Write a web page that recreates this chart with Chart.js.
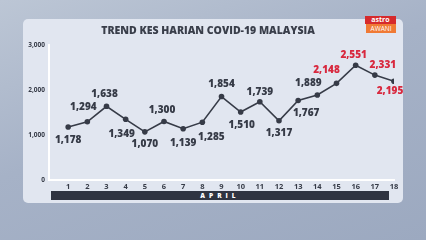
<!DOCTYPE html>
<html><head><meta charset="utf-8">
<script src="https://cdn.jsdelivr.net/npm/chart.js@4.4.1/dist/chart.umd.min.js"></script>
<style>
html,body{margin:0;padding:0;width:426px;height:240px;overflow:hidden;}
body{position:relative;background:linear-gradient(160deg,#bcc6d5 0%,#a6b2c7 45%,#9ca9c0 100%);font-family:"Open Sans",sans-serif;}
#card{position:absolute;left:23px;top:19px;width:380px;height:184px;border-radius:5px;background:#e1e6f0;}
#bar{position:absolute;left:51px;top:191px;width:338px;height:9px;background:#2f3441;color:#fff;font:800 6.5px "Open Sans",sans-serif;letter-spacing:4px;text-align:center;line-height:9px;}
#logo{position:absolute;left:365px;top:16px;width:31px;}
#logo .a{background:#d62a2c;color:#fff;font:700 7px "Open Sans",sans-serif;text-align:center;height:8px;line-height:8px;}
#logo .b{background:#f07a35;color:#fff;font:400 6.5px "Open Sans",sans-serif;text-align:center;height:9px;line-height:9px;margin-left:1px;}
canvas{position:absolute;left:0;top:0;}
</style></head>
<body>
<div id="card"></div>
<div id="bar">APRIL</div>
<div id="logo"><div class="a">astro</div><div class="b">AWANI</div></div>
<canvas id="c" width="426" height="240"></canvas>
<script>
const days = [1,2,3,4,5,6,7,8,9,10,11,12,13,14,15,16,17,18];
const cases = [1178,1294,1638,1349,1070,1300,1139,1285,1854,1510,1739,1317,1767,1889,2148,2551,2331,2195];
const yTicks = [0,1000,2000,3000];
const title = 'TREND KES HARIAN COVID-19 MALAYSIA';
const highlightFromDay = 15;
// label offsets (style, relative to each point)
const labelOffsets = [[0,13],[-4,-15],[-2,-12],[-4,15],[0,12],[-2,-11],[0,14],[9,15],[0,-12],[1,13],[0,-10],[0,12],[8,13],[-9,-12],[-10,-13],[-2,-10],[8,-10],[-4,10]];

const fmt = v => v.toLocaleString('en-US');
const dark = '#363b47', red = '#d8283e';

const labelPlugin = {
  id: 'pointLabels',
  afterDatasetsDraw(chart) {
    const ctx = chart.ctx;
    const meta = chart.getDatasetMeta(0);
    ctx.save();
    ctx.font = '800 10px "Open Sans", sans-serif';
    ctx.textAlign = 'center';
    ctx.textBaseline = 'middle';
    meta.data.forEach((pt, i) => {
      const o = labelOffsets[i];
      ctx.fillStyle = days[i] >= highlightFromDay ? red : dark;
      ctx.fillText(fmt(cases[i]), pt.x + o[0], pt.y + o[1]);
    });
    ctx.restore();
  }
};

new Chart(document.getElementById('c'), {
  type: 'line',
  data: {
    datasets: [{
      data: days.map((d, i) => ({x: d, y: cases[i]})),
      borderColor: '#363b47',
      borderWidth: 1.6,
      pointRadius: 2.8,
      pointBackgroundColor: '#363b47',
      pointBorderWidth: 0,
      tension: 0
    }]
  },
  options: {
    responsive: false,
    animation: false,
    layout: {padding: {left: 22, right: 32, top: 0, bottom: 0}},
    plugins: {
      legend: {display: false},
      tooltip: {enabled: false},
      title: {
        display: true, text: title, color: '#393e4a',
        font: {family: '"Open Sans", sans-serif', size: 10.5, weight: '800', lineHeight: 1.2},
        padding: {top: 25, bottom: 7.4}
      }
    },
    scales: {
      x: {
        type: 'linear', min: 0, max: 18,
        afterFit: s => { s.height = 60; },
        grid: {display: true, drawOnChartArea: false, drawTicks: false},
        border: {display: true, color: '#ffffff', width: 2},
        ticks: {
          stepSize: 1, padding: 2, color: dark, maxRotation: 0, autoSkip: false,
          font: {family: '"Open Sans", sans-serif', size: 7.5, weight: '700'},
          callback: v => (days.includes(v) ? String(v) : '')
        }
      },
      y: {
        min: 0, max: 3000,
        afterFit: s => { s.width = 27; },
        afterBuildTicks: s => { s.ticks = yTicks.map(v => ({value: v})); },
        grid: {display: true, drawOnChartArea: false, drawTicks: false},
        border: {display: true, color: '#ffffff', width: 2},
        ticks: {
          padding: 4, color: dark,
          font: {family: '"Open Sans", sans-serif', size: 6.5, weight: '700'},
          callback: v => fmt(v)
        }
      }
    }
  },
  plugins: [labelPlugin]
});
</script>
</body></html>
